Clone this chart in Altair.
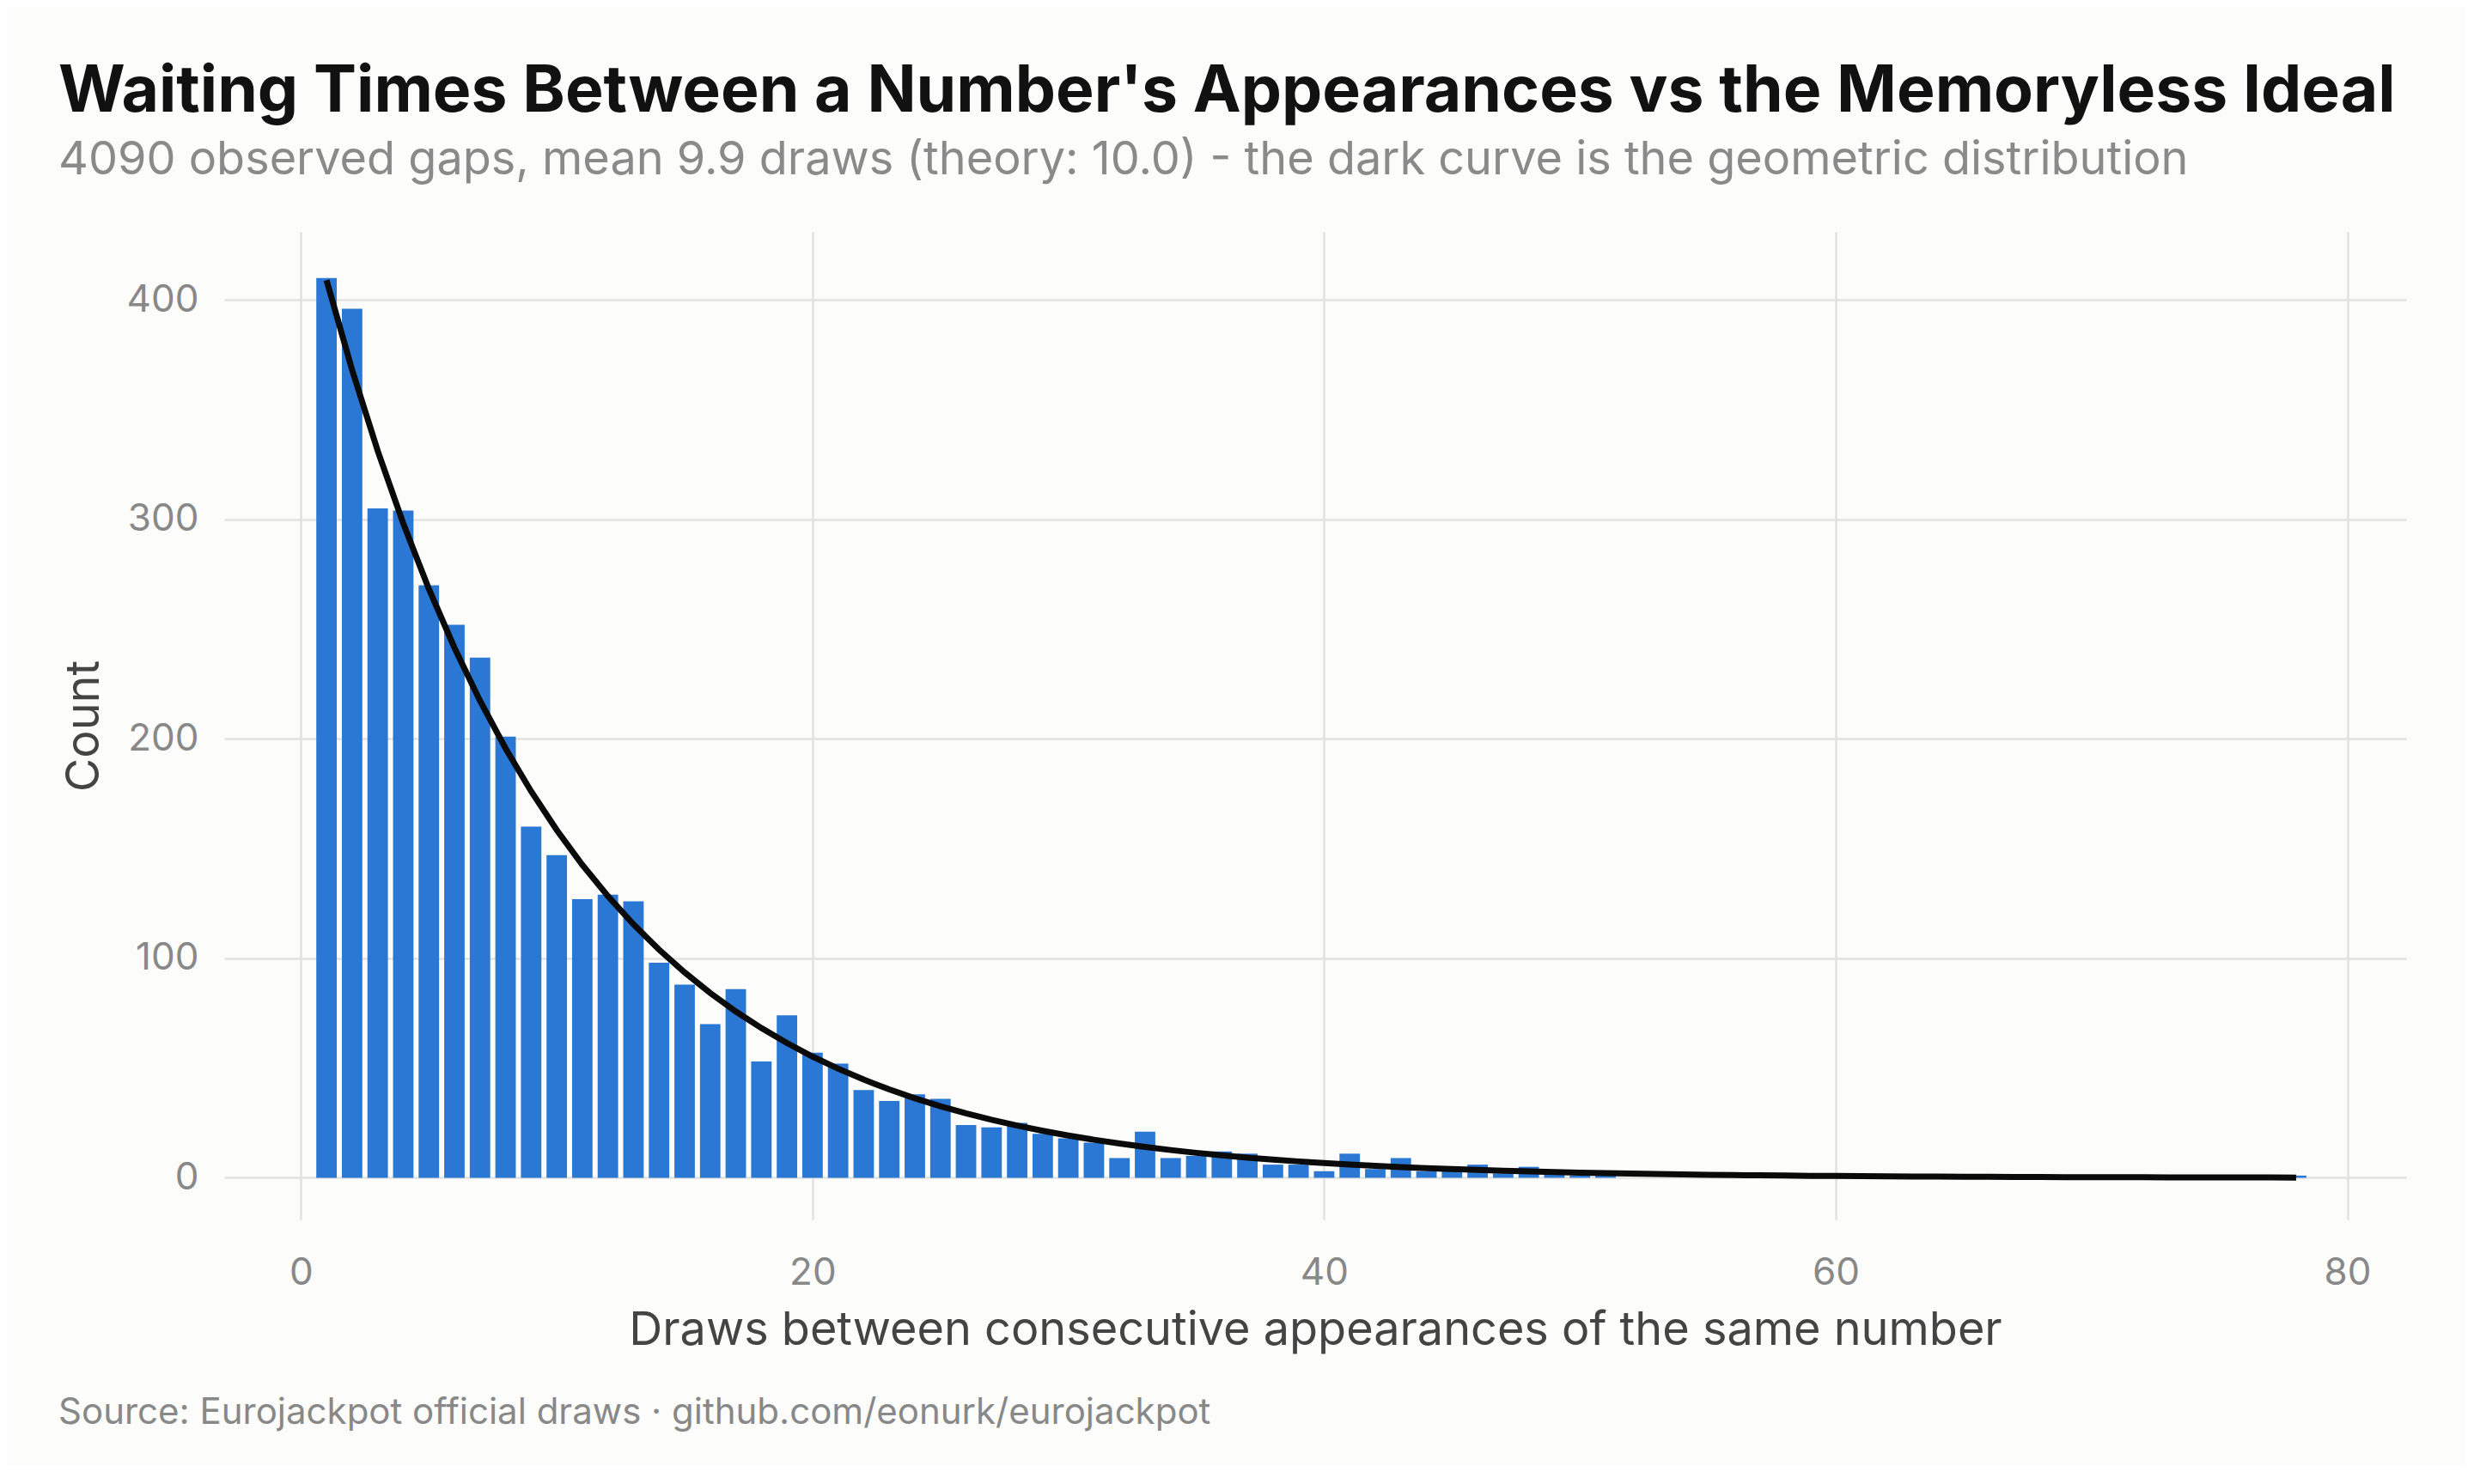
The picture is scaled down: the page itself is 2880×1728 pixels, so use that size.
import altair as alt
import numpy as np
import pandas as pd

gaps = list(range(1, 52)) + [78]
counts = [410, 396, 305, 304, 270, 252, 237, 201, 160, 147,
          127, 129, 126, 98, 88, 70, 86, 53, 74, 57,
          52, 40, 35, 38, 36, 24, 23, 25, 20, 18,
          16, 9, 21, 9, 10, 12, 11, 6, 6, 3,
          11, 4, 9, 3, 3, 6, 2, 5, 2, 1,
          1, 1]

n_gaps = 4090
p = 0.1
curve_k = np.arange(1, 79)
curve_y = n_gaps * p * (1 - p) ** (curve_k - 1)

bars_df = pd.DataFrame({"gap": gaps, "count": counts})
curve_df = pd.DataFrame({"gap": curve_k, "expected": curve_y})

W, H = 2540, 1150
xs = alt.Scale(domain=[-3, 82.3], nice=False, zero=False)
ys = alt.Scale(domain=[-19, 431], nice=False, zero=False)

bars = (
    alt.Chart(bars_df)
    .transform_calculate(x0="datum.gap - 0.4", x1="datum.gap + 0.4")
    .mark_rect(color="#2b78d4")
    .encode(
        x=alt.X("x0:Q", scale=xs, title="Draws between consecutive appearances of the same number",
                axis=alt.Axis(values=[0, 20, 40, 60, 80], labelPadding=40, titlePadding=18)),
        x2="x1:Q",
        y=alt.Y("count:Q", scale=ys, title="Count",
                axis=alt.Axis(values=[0, 100, 200, 300, 400], labelPadding=30, titlePadding=22)),
        y2=alt.datum(0),
    )
)

line = (
    alt.Chart(curve_df)
    .mark_line(color="#0a0a0a", strokeWidth=7)
    .encode(x=alt.X("gap:Q", scale=xs), y=alt.Y("expected:Q", scale=ys))
)

source = (
    alt.Chart(pd.DataFrame({"t": ["Source: Eurojackpot official draws · github.com/eonurk/eurojackpot"]}))
    .mark_text(align="left", baseline="middle", fontSize=42, color="#888888", font="Inter")
    .encode(text="t:N", x=alt.value(-193), y=alt.value(H + 225))
)

chart = (
    (bars + line + source)
    .properties(
        width=W,
        height=H,
        background="#fcfcfa",
        padding={"top": 62, "left": 60, "right": 70, "bottom": 40},
        title=alt.TitleParams(
            "Waiting Times Between a Number's Appearances vs the Memoryless Ideal",
            subtitle="4090 observed gaps, mean 9.9 draws (theory: 10.0) - the dark curve is the geometric distribution",
            anchor="start",
            frame="bounds",
            font="Inter",
            fontSize=75,
            fontWeight="bold",
            color="#111111",
            subtitleFont="Inter",
            subtitleFontSize=54,
            subtitleColor="#8a8a8a",
            subtitlePadding=14,
            offset=55,
        ),
    )
    .configure_view(stroke=None)
    .configure_axis(
        domain=False,
        ticks=False,
        grid=True,
        gridColor="#e2e2e0",
        gridWidth=2.5,
        labelFont="Inter",
        labelFontSize=44,
        labelColor="#888888",
        titleFont="Inter",
        titleFontSize=54,
        titleFontWeight="normal",
        titleColor="#444444",
    )
)

chart.save("out.html", embed_options={"renderer": "svg", "actions": False})
